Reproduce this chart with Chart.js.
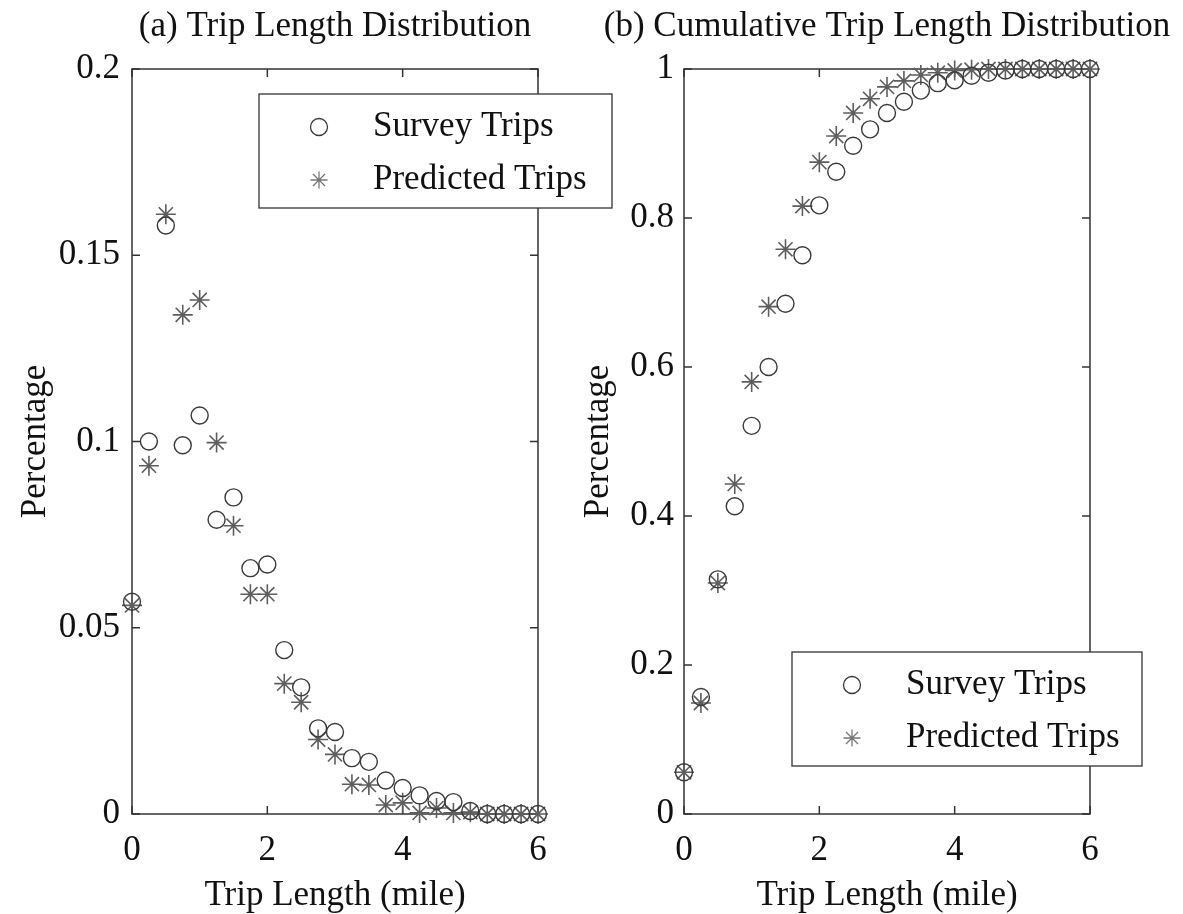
<!DOCTYPE html>
<html>
<head>
<meta charset="utf-8">
<script src="https://cdn.jsdelivr.net/npm/chart.js@4"></script>
<style>
  body { margin: 0; background: #fff; }
  #wrap { position: relative; width: 1183px; height: 914px; overflow: hidden; }
  canvas { position: absolute; top: 0; }
  #distChart { left: 0; }
  #cumChart { left: 560px; }
</style>
</head>
<body>
<div id="wrap">
  <canvas id="distChart" width="640" height="914"></canvas>
  <canvas id="cumChart" width="623" height="914"></canvas>
</div>
<script>
// trip length bins (mile)
const tripLength = [0, 0.25, 0.5, 0.75, 1, 1.25, 1.5, 1.75, 2, 2.25, 2.5, 2.75, 3,
  3.25, 3.5, 3.75, 4, 4.25, 4.5, 4.75, 5, 5.25, 5.5, 5.75, 6];

// share of trips per bin
const surveyShare = [0.057, 0.100, 0.158, 0.099, 0.107, 0.079, 0.085, 0.066, 0.067,
  0.044, 0.034, 0.023, 0.022, 0.015, 0.014, 0.009, 0.007, 0.005, 0.0035, 0.0032,
  0.0008, 0, 0, 0, 0];
const predictedShare = [0.056, 0.0935, 0.161, 0.134, 0.138, 0.0997, 0.0774, 0.059, 0.059,
  0.035, 0.030, 0.020, 0.016, 0.008, 0.0078, 0.0024, 0.003, 0.0003, 0.0016, 0.0003,
  0.0005, 0, 0, 0, 0];

// cumulative share
const surveyCum = [0.056, 0.157, 0.315, 0.413, 0.521, 0.600, 0.685, 0.750, 0.817,
  0.862, 0.897, 0.919, 0.941, 0.956, 0.971, 0.981, 0.985, 0.991, 0.995, 0.998,
  1, 1, 1, 1, 1];
const predictedCum = [0.056, 0.149, 0.310, 0.443, 0.580, 0.681, 0.758, 0.816, 0.875,
  0.910, 0.941, 0.960, 0.976, 0.984, 0.992, 0.995, 0.998, 0.999, 1, 1,
  1, 1, 1, 1, 1];

const xTicks = [0, 2, 4, 6];
const yTicksDist = [0, 0.05, 0.1, 0.15, 0.2];
const yTicksCum = [0, 0.2, 0.4, 0.6, 0.8, 1];

const seriesNames = ['Survey Trips', 'Predicted Trips'];

const FONT = 'Liberation Serif, Times New Roman, serif';
const circleColor = '#3a3a3a';
const starColor = '#5e5e5e';

const toPoints = ys => ys.map((y, i) => ({ x: tripLength[i], y }));

// box around the plot area with inward ticks on all four sides
const frameTicks = {
  id: 'frameTicks',
  beforeDatasetsDraw(chart) {
    const { ctx, chartArea: a, scales } = chart;
    const len = 8;
    ctx.save();
    ctx.strokeStyle = '#333';
    ctx.lineWidth = 1.5;
    ctx.strokeRect(a.left, a.top, a.right - a.left, a.bottom - a.top);
    ctx.beginPath();
    scales.x.ticks.forEach(t => {
      const px = scales.x.getPixelForValue(t.value);
      ctx.moveTo(px, a.bottom); ctx.lineTo(px, a.bottom - len);
      ctx.moveTo(px, a.top); ctx.lineTo(px, a.top + len);
    });
    scales.y.ticks.forEach(t => {
      const py = scales.y.getPixelForValue(t.value);
      ctx.moveTo(a.left, py); ctx.lineTo(a.left + len, py);
      ctx.moveTo(a.right, py); ctx.lineTo(a.right - len, py);
    });
    ctx.stroke();
    ctx.restore();
  }
};

// panel title centred over the plot area, free to run wider than it
const panelTitle = {
  id: 'panelTitle',
  afterDraw(chart, args, opts) {
    const { ctx, chartArea: a } = chart;
    ctx.save();
    ctx.fillStyle = '#111';
    ctx.font = '35px ' + FONT;
    ctx.textAlign = 'center';
    ctx.textBaseline = 'middle';
    ctx.fillText(opts.text, (a.left + a.right) / 2, 27);
    ctx.restore();
  }
};

// boxed legend placed inside the figure
const boxLegend = {
  id: 'boxLegend',
  afterDraw(chart, args, opts) {
    const { ctx } = chart;
    const { left, top, width, height } = opts;
    ctx.save();
    ctx.fillStyle = '#fff';
    ctx.fillRect(left, top, width, height);
    ctx.strokeStyle = '#333';
    ctx.lineWidth = 1.3;
    ctx.strokeRect(left, top, width, height);
    const rows = [33, 86];
    chart.data.datasets.forEach((ds, i) => {
      const y = top + rows[i];
      ctx.strokeStyle = ds.pointStyle === 'star' ? '#777' : ds.borderColor;
      ctx.fillStyle = 'rgba(0,0,0,0)';
      ctx.lineWidth = 1.3;
      Chart.helpers.drawPoint(ctx, { pointStyle: ds.pointStyle, radius: 8.5, borderWidth: 1.3 }, left + 60, y);
      ctx.fillStyle = '#111';
      ctx.font = '35px ' + FONT;
      ctx.textBaseline = 'middle';
      ctx.textAlign = 'left';
      ctx.fillText(ds.label, left + 114, y);
    });
    ctx.restore();
  }
};

function makeChart(id, survey, predicted, yMax, yTicks, opts) {
  return new Chart(document.getElementById(id), {
    type: 'scatter',
    data: {
      datasets: [{
        label: seriesNames[0],
        data: toPoints(survey),
        pointStyle: 'circle',
        pointRadius: 8.5,
        borderWidth: 1.4,
        borderColor: circleColor,
        backgroundColor: 'rgba(0,0,0,0)',
        clip: false
      }, {
        label: seriesNames[1],
        data: toPoints(predicted),
        pointStyle: 'star',
        pointRadius: 10,
        borderWidth: 1.6,
        borderColor: starColor,
        backgroundColor: 'rgba(0,0,0,0)',
        clip: false
      }]
    },
    options: {
      responsive: false,
      animation: false,
      layout: { padding: { left: 0, right: opts.padRight, top: 69, bottom: 0 } },
      scales: {
        x: {
          type: 'linear',
          min: 0, max: 6,
          afterFit: s => { s.height = 100; },
          afterBuildTicks: s => { s.ticks = xTicks.map(v => ({ value: v })); },
          grid: { display: false, drawTicks: false },
          border: { display: false },
          ticks: {
            padding: 16,
            color: '#111',
            font: { family: FONT, size: 35, lineHeight: 1.2 },
            callback: v => String(v)
          },
          title: {
            display: true,
            text: 'Trip Length (mile)',
            color: '#111',
            padding: { top: 0, bottom: -3 },
            font: { family: FONT, size: 35, lineHeight: 1.2 }
          }
        },
        y: {
          type: 'linear',
          min: 0, max: yMax,
          afterFit: s => { s.width = opts.axisWidth; },
          afterBuildTicks: s => { s.ticks = yTicks.map(v => ({ value: v })); },
          grid: { display: false, drawTicks: false },
          border: { display: false },
          ticks: {
            padding: opts.tickPad,
            color: '#111',
            font: { family: FONT, size: 35, lineHeight: 1.2 },
            callback: v => String(v)
          },
          title: {
            display: true,
            text: 'Percentage',
            color: '#111',
            padding: { top: opts.titlePad, bottom: 0 },
            font: { family: FONT, size: 35, lineHeight: 1.2 }
          }
        }
      },
      plugins: {
        legend: { display: false },
        tooltip: { enabled: false },
        title: { display: false },
        panelTitle: { text: opts.title },
        boxLegend: opts.legend
      }
    },
    plugins: [frameTicks, panelTitle, boxLegend]
  });
}

makeChart('distChart', surveyShare, predictedShare, 0.2, yTicksDist, {
  title: '(a) Trip Length Distribution',
  padRight: 102,
  axisWidth: 132,
  tickPad: 12,
  titlePad: 15,
  legend: { left: 259, top: 94, width: 353, height: 114 }
});

makeChart('cumChart', surveyCum, predictedCum, 1, yTicksCum, {
  title: '(b) Cumulative Trip Length Distribution',
  padRight: 93,
  axisWidth: 124,
  tickPad: 10,
  titlePad: 18,
  legend: { left: 232, top: 652, width: 350, height: 114 }
});
</script>
</body>
</html>
